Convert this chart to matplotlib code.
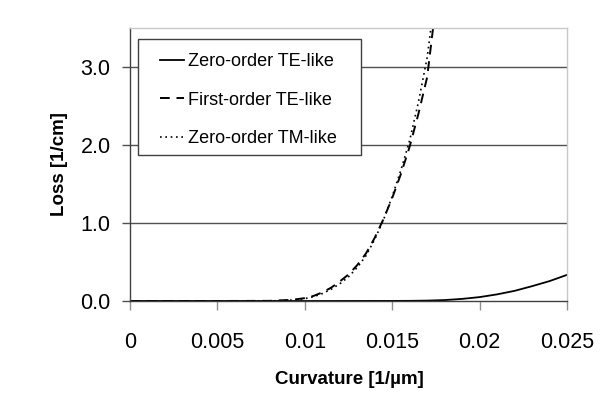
import matplotlib
matplotlib.use("Agg")
import matplotlib.pyplot as plt
from matplotlib.patches import Rectangle
import numpy as np

# curvature [1/um] and loss [1/cm]
curv_te1 = [0.0, 0.005, 0.008, 0.009, 0.0095, 0.01, 0.0105, 0.011, 0.0115, 0.012, 0.0125,
            0.013, 0.0135, 0.014, 0.0145, 0.015, 0.0155, 0.016, 0.0165, 0.017, 0.0175]
loss_te1 = [0.0, 0.0, 0.002, 0.012, 0.022, 0.037, 0.065, 0.11, 0.17, 0.25, 0.34,
            0.46, 0.61, 0.81, 1.05, 1.32, 1.63, 1.98, 2.4, 2.87, 3.8]

curv_tm0 = curv_te1
loss_tm0 = [0.0, 0.0, 0.001, 0.008, 0.016, 0.03, 0.055, 0.095, 0.15, 0.22, 0.31,
            0.43, 0.58, 0.79, 1.04, 1.34, 1.68, 2.06, 2.55, 3.12, 4.0]

curv_te0 = [0.0, 0.01, 0.015, 0.016, 0.017, 0.018, 0.019, 0.02, 0.021, 0.022, 0.023, 0.024, 0.025]
loss_te0 = [0.0, 0.0, 0.001, 0.002, 0.005, 0.012, 0.027, 0.05, 0.085, 0.13, 0.19, 0.255, 0.335]

x_ticks = [0, 0.005, 0.01, 0.015, 0.02, 0.025]
x_labels = ["0", "0.005", "0.01", "0.015", "0.02", "0.025"]
y_ticks = [0.0, 1.0, 2.0, 3.0]
y_labels = ["0.0", "1.0", "2.0", "3.0"]

plt.rcParams["font.family"] = ["Liberation Sans", "DejaVu Sans"]

W, H = 610, 407
fig = plt.figure(figsize=(W / 100, H / 100), dpi=100)
ax = fig.add_axes([130 / W, 1 - 301 / H, (567 - 130) / W, (301 - 28) / H])

ax.plot(curv_te0, loss_te0, color="black", lw=1.3, ls="-", label="Zero-order TE-like")
ax.plot(curv_te1, loss_te1, color="black", lw=1.4, ls=(0, (5, 3.5)), label="First-order TE-like")
ax.plot(curv_tm0, loss_tm0, color="black", lw=1.2, ls=(0, (1, 2.2)), label="Zero-order TM-like")

ax.set_xlim(0, 0.025)
ax.set_ylim(0, 3.5)

for y in y_ticks[1:]:
    ax.axhline(y, color="#505050", lw=1.0, zorder=0)

ax.set_xticks(x_ticks)
ax.set_xticklabels(x_labels, fontsize=15.5)
ax.set_yticks(y_ticks)
ax.set_yticklabels(y_labels, fontsize=15.5)
ax.tick_params(axis="x", direction="out", length=6.5, width=1, color="#909090", pad=16)
ax.tick_params(axis="y", direction="out", length=6, width=1, color="#505050", pad=8)

ax.spines["left"].set_color("#404040")
ax.spines["bottom"].set_color("#404040")
ax.spines["top"].set_color("#c8c8c8")
ax.spines["right"].set_color("#c8c8c8")
for s in ax.spines.values():
    s.set_linewidth(1.0)

fig.text(60 / W, 1 - 164.5 / H, "Loss [1/cm]", rotation=90, ha="center", va="center",
         fontsize=13.5, fontweight="bold")
fig.text(349 / W, 1 - 380 / H, "Curvature [1/\u00b5m]", ha="center", va="center",
         fontsize=13.5, fontweight="bold")

# legend frame drawn by hand (box 138..361 x 39..155 px), entries placed inside it
box = Rectangle((138 / W, 1 - 155 / H), (361 - 138) / W, (155 - 39) / H,
                transform=fig.transFigure, facecolor="white", edgecolor="#404040",
                lw=1.0, zorder=5)
fig.patches.append(box)
leg = fig.legend(*ax.get_legend_handles_labels(), loc="upper left",
                 bbox_to_anchor=(160 / W, 1 - 53 / H), bbox_transform=fig.transFigure,
                 fontsize=13, frameon=False, handlelength=1.35, handletextpad=0.2,
                 labelspacing=1.2, borderpad=0, borderaxespad=0)
leg.set_zorder(6)

fig.savefig("out.png", dpi=100)
